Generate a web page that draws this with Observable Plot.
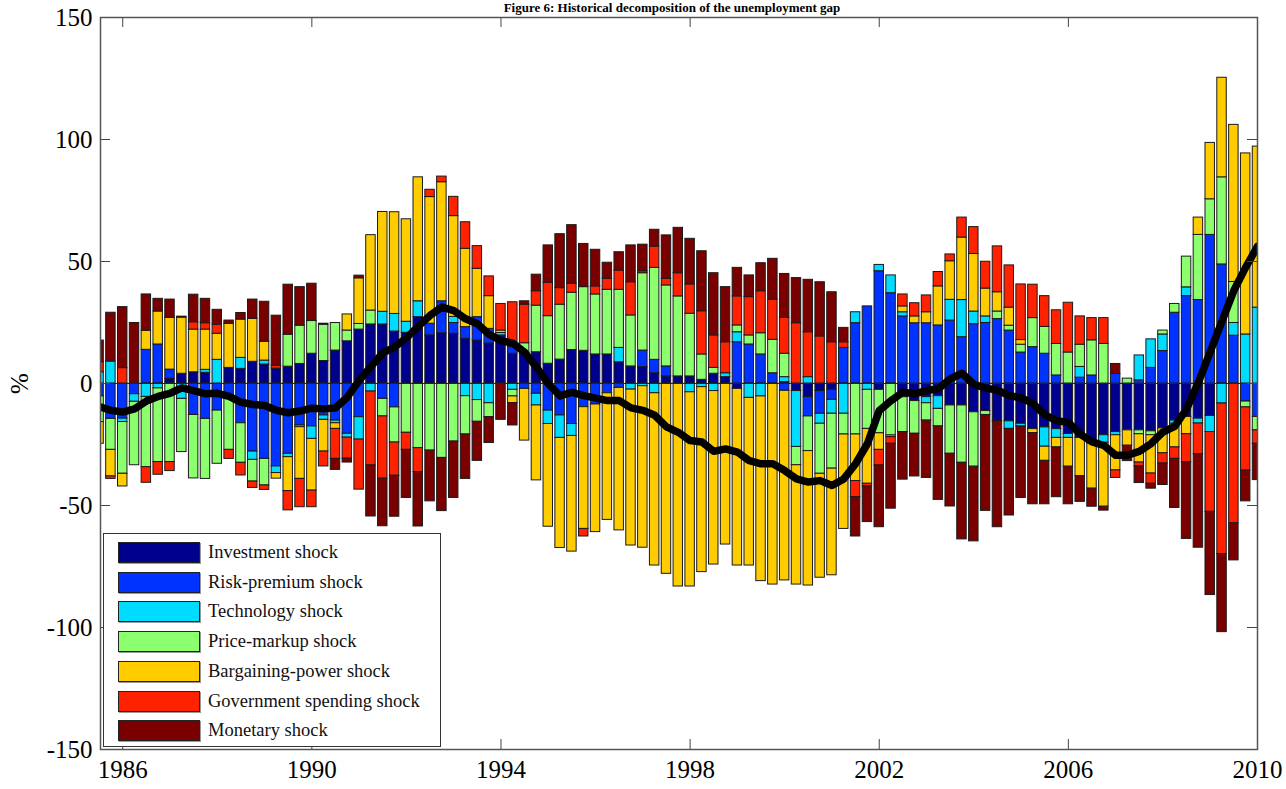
<!DOCTYPE html>
<html><head><meta charset="utf-8">
<script src="https://cdn.jsdelivr.net/npm/d3@7"></script>
<script src="https://cdn.jsdelivr.net/npm/@observablehq/plot@0.6"></script>
<style>
html,body{margin:0;padding:0;background:#fff;}
#wrap{position:relative;width:1286px;height:789px;overflow:hidden;font-family:"Liberation Serif","Times New Roman",serif;}
#title{position:absolute;top:1px;left:672px;transform:translateX(-50%);white-space:nowrap;font-weight:bold;font-size:13px;line-height:1;color:#000;}
#chart{position:absolute;left:0;top:0;}
#legend{position:absolute;left:103px;top:533px;width:338px;height:214px;border:1px solid #333;background:#fff;box-sizing:border-box;}
.row{position:absolute;left:14px;height:21px;display:flex;align-items:center;}
.sw{width:82px;height:21px;border:1px solid #222;box-sizing:border-box;box-shadow:1px 1px 0 #999;}
.lab{margin-left:8px;font-size:18.5px;color:#111;white-space:nowrap;}
</style></head><body>
<div id="wrap"><div id="chart"></div><div id="title">Figure 6: Historical decomposition of the unemployment gap</div><div id="legend"></div></div>
<script>
const dates = [1985.5,1985.75,
1986,1986.25,1986.5,1986.75, 1987,1987.25,1987.5,1987.75, 1988,1988.25,1988.5,1988.75, 1989,1989.25,1989.5,1989.75,
1990,1990.25,1990.5,1990.75, 1991,1991.25,1991.5,1991.75, 1992,1992.25,1992.5,1992.75, 1993,1993.25,1993.5,1993.75,
1994,1994.25,1994.5,1994.75, 1995,1995.25,1995.5,1995.75, 1996,1996.25,1996.5,1996.75, 1997,1997.25,1997.5,1997.75,
1998,1998.25,1998.5,1998.75, 1999,1999.25,1999.5,1999.75, 2000,2000.25,2000.5,2000.75, 2001,2001.25,2001.5,2001.75,
2002,2002.25,2002.5,2002.75, 2003,2003.25,2003.5,2003.75, 2004,2004.25,2004.5,2004.75, 2005,2005.25,2005.5,2005.75,
2006,2006.25,2006.5,2006.75, 2007,2007.25,2007.5,2007.75, 2008,2008.25,2008.5,2008.75, 2009,2009.25,2009.5,2009.75, 2010];

const shocks = ["Investment shock","Risk-premium shock","Technology shock","Price-markup shock","Bargaining-power shock","Government spending shock","Monetary shock"];
const colors = ["#00008f","#0033ff","#00dcff","#8cff6e","#ffcc00","#ff2200","#7a0000"];

const investment = [0,0,0,0,0,0,1.9,4.0,4.6,4.4,
0,6.4,6,8.9,7.8,6.1,6.9,8,12.2,9.2,
13.5,17.3,22.1,24.2,24.2,21.3,20.8,27.2,19.7,20.6,
20.4,18.3,17.6,16.4,19.7,12.2,12,12.8,8.1,9.8,
13.7,13.4,11.9,11.9,8.7,7.0,6.7,4.2,2.9,2.9,
2.9,1.5,4.0,2.6,-2.2,0,0,0,0.6,-3.1,
-5.6,-3.1,-2.6,0,0,0,-2.6,0,-5.6,-7.2,
-5.6,-5.2,-9,-9,-11.8,-11.3,-15.5,-15.5,-16.5,-18.7,
-18,-18.7,-20.7,-22.3,-24.6,-21.2,-19.9,-19.2,-19.2,-19.6,
-18.4,-15.2,-13.7,-14.4,-13.3,0,0,0,0];
const riskPremium = [-5.3,-14.5,-14.4,-4.4,13.8,16,3.8,0,-12.9,-14.5,
-11.1,-6,-16.3,-27.9,-30.9,-34,-28.8,-17.2,-17.6,-13.1,
-15.2,-20.6,-13.8,0,-6.3,-9.8,0,0,4.8,13.1,
4.4,4.8,9.6,6,0,2.7,-2.2,-4.2,-11.1,-13.1,
-16.6,-9.7,-8.6,-4.0,-1.8,0,6.8,5.5,4.1,0,
0,0,0,0,16.9,16,11.9,4.2,-3,0,
-7.9,-9.3,-4.1,14.6,24.7,31.6,46,37,27.5,24.7,
24.7,23.8,25.8,19,24.3,24.8,26.4,21.7,12.7,14.9,
12.2,3.3,0,2.4,3.3,0,3.9,0,1.3,6.4,
13.3,29,35.8,34.2,60.9,48.8,19.6,-7.4,-13.7];
const technology = [4.6,9.0,-1.4,-3.1,-5.5,-2,0,-6.3,0,1.2,
9.7,0,4.5,-3.4,1.6,-2.7,-1.4,-0.7,-5.1,-1.8,
-1.1,-1.6,-9.2,-3.3,5.2,7.2,4.5,6.5,0,0,
2.5,-5.2,-6.8,-8.1,1.0,-2.6,0,-4.8,-5.5,-9.2,
-4.9,0,0,0,5.9,-2.5,-1.1,-4.0,0,0,
-3.6,-1.5,-3.1,1.6,4.1,-5.9,-5.3,0,2.0,-22.9,
2.6,-4.1,-5.7,-12.4,4.5,-2.6,2.6,7.3,1.7,0,
-2.5,-5.2,8.5,15.2,5.2,2.7,0,-3.1,-1.1,0,
-7.9,-3.6,-1.6,4.4,0,-3.1,-1.3,0,10.2,11.7,
6.8,-1.3,3.6,-2.0,-6.6,-8.2,5.2,20.1,31.1];
const priceMarkup = [-10.5,-12.7,-21.2,-26,-28.8,-30.2,-32.2,-21.8,-26,-24.6,
-21.8,-21.2,-16.2,-8.9,-10.9,0,13.1,15.7,13.4,14.9,
11.3,4.4,2.3,5.7,-7.2,-14.4,-20.2,-26.5,-27.5,-30.5,
-23.8,-15.7,-8.9,-5.7,0,-2.7,4.5,19.1,19.5,22.5,
23.5,26.1,24.6,26.5,23.8,20.9,31.7,37.7,33.2,32.8,
25.7,10.4,2.4,0,2.8,3.7,8.7,13.7,9.6,-7.5,
-14.2,-20.5,-22.5,-8.5,-20.9,-16,-17.8,-21.3,-14.3,-13.4,
-7.1,-7.2,-19.8,-23.5,-22.3,-1.6,3.1,2.0,3.2,11.9,
11,12.9,12.7,9.1,14.4,16.2,0,2.0,-1.6,-1.6,
1.6,3.6,12.6,26.7,14.6,35.7,16.8,-2.4,-5.5];
const bargaining = [-8.9,-10.9,-5.2,0,7.8,13.5,21.2,23,17.5,16.5,
10.7,18,15.7,17.6,7.7,-2.3,-13.9,-21.2,-21.2,-13,
-2.3,6.6,18.7,30.9,40.9,41.7,42,50.8,51.9,48.8,
41.3,32.1,19.8,13.4,1.0,-2.7,-21.2,-30.7,-42.1,-45.1,
-47.4,-49.9,-52.3,-51.9,-58.4,-63.9,-66.2,-70.6,-78,-83.2,
-79.6,-75.8,-71.1,-66,-72.4,-68.7,-75.7,-82.4,-77.7,-48.9,
-55.1,-42.6,-43.7,-38.7,-19.1,-22.5,-6.8,-0.7,2.4,2.8,
4.5,16.0,15.8,25.6,23.6,11.4,7.9,7.4,1.9,-1.6,
-5.8,-3.9,-11.8,-15.7,-18.5,-26.2,-14.4,-6.3,-11.6,-15.7,
-10.2,-9.7,-7.1,7.1,23.1,40.8,64.4,74.2,66];
const government = [4.1,-1.0,6.3,0,-6.4,-5.2,-3.7,0,3.0,2.6,
3.7,-3.7,-5.2,-2.6,-1.8,1.2,-7.9,-11.6,-6.8,-6.1,
-12.3,-8.6,-20.5,-30.3,-25.5,-13.6,-7.0,-9.8,3.0,2.3,
7.9,10.9,9.3,8.1,10.9,18.4,15.8,5.9,13.7,6.8,
3.7,-3.1,3.3,4.5,7.9,13.6,0.8,8.7,2.7,9.5,
12,17.7,13.3,12.7,11.9,15.7,17.2,16.4,14.7,24.7,
18.4,19.3,16.9,2.3,-6.6,-1.1,-6.4,-2.7,4.9,5.4,
6.9,5.9,2.8,8.2,11,11,18.8,17.3,22.8,13.7,
12.6,13.8,20.4,11.6,9.1,10.6,-3.1,0,-1.6,-4.2,
-4.2,-4.7,-11.5,-12.6,-32.7,-61.7,-57.3,-25.9,-5.5];
const monetary = [8.9,20,25,24.8,14.9,5.2,7.5,0.4,11.3,10,
6.1,1.4,2.7,7.9,16.4,20.5,20.5,15.8,15.3,0.4,
-4.5,-1.6,1.1,-20.9,-19.5,-16.8,-19.7,-22.3,-20.8,-21.8,
-23.1,-18.2,-16,-10.6,-14.9,-9.2,1.4,6.8,15.3,22.1,
24,17.7,15,6.6,7.5,15.1,10.9,6.9,17.8,18.6,
18.7,24.6,25.5,22.6,11.7,8.9,11.5,16.8,18,18.5,
21.5,22.2,20.5,5.9,-16.1,-14.6,-25.3,-26.6,-19.5,-17.5,
-23.5,-30.1,-21.6,-31.4,-30.6,-39.3,-43.4,-35.5,-29.3,-29.2,
-17.8,-20.4,-15.4,-10.5,-7.4,-1.6,4.1,-6.3,-6.8,-2.0,
-8.8,-20.1,-31.4,-38.3,-34.1,-32,-15.2,-12.6,-14.9];
const unemploymentGap = [-9.4,-11,-11.7,-10.4,-7.2,-5.3,-4,-1.8,-2.9,-4.2,
-4,-5.3,-7.7,-8.6,-9,-11,-12,-11.3,-10.1,-10.4,
-10,-5.6,1.2,7,12.5,14.9,18.7,23.4,27.9,31.3,
29.9,26.5,24.5,20.1,17.6,16.5,12.8,6.7,-0.1,-5.1,
-3.6,-5,-6,-7,-7,-10,-11,-13,-17.8,-20,
-23.4,-24,-27.8,-26.8,-28.1,-31.6,-32.9,-32.9,-35.7,-39.1,
-40.4,-39.8,-41.8,-39.1,-32.9,-24.7,-11.1,-7,-3.6,-4.2,
-2.9,-2.2,1.9,4.2,-0.3,-1.9,-2.7,-5,-5.8,-8.2,
-12.9,-15.2,-16,-20.7,-23.9,-25.4,-29.4,-29.4,-27.8,-24.6,
-19.9,-17.6,-10.5,0.5,13,25.6,38.1,47.6,56.2];

const xTicks = [1986,1990,1994,1998,2002,2006,2010];
const yTicks = [-150,-100,-50,0,50,100,150];

const series = [investment, riskPremium, technology, priceMarkup, bargaining, government, monetary];
const barHalf = 0.1;
const rows = [];
dates.forEach((t, i) => {
  series.forEach((s, k) => {
    if (s[i] !== 0) rows.push({t, x1: t - barHalf, x2: t + barHalf, shock: shocks[k], value: s[i]});
  });
});
const lineRows = dates.map((t, i) => ({t, v: unemploymentGap[i]}));

const W = 1286, H = 789, mL = 100, mR = 29, mT = 17, mB = 40;
const fw = W - mL - mR, fh = H - mT - mB, tl = 10;

const chart = Plot.plot({
  width: W, height: H,
  marginLeft: mL, marginRight: mR, marginTop: mT, marginBottom: mB,
  style: {fontFamily: "'Liberation Serif', 'Times New Roman', serif", fontSize: "25px", background: "white", color: "#000", overflow: "visible"},
  x: {domain: [1985.53, 2010], label: null},
  y: {domain: [-150, 150], label: null},
  color: {domain: shocks, range: colors},
  marks: [
    Plot.rectY(rows, {x1: "x1", x2: "x2", y: "value", fill: "shock", order: shocks, stroke: "#1a1a1a", strokeWidth: 1, clip: true}),
    Plot.ruleY([0], {stroke: "#222", strokeWidth: 1}),
    Plot.line(lineRows, {x: "t", y: "v", stroke: "#000", strokeWidth: 7.5, clip: true}),
    Plot.tickX(xTicks, {x: d => d, insetBottom: fh - tl, stroke: "#444"}),
    Plot.tickX(xTicks, {x: d => d, insetTop: fh - tl, stroke: "#444"}),
    Plot.tickY(yTicks, {y: d => d, insetRight: fw - tl, stroke: "#444"}),
    Plot.tickY(yTicks, {y: d => d, insetLeft: fw - tl, stroke: "#444"}),
    Plot.frame({stroke: "#555", strokeWidth: 1.5}),
    Plot.axisX({ticks: xTicks, tickSize: 0, tickPadding: 11, tickFormat: d => String(d), label: null, fontSize: 25}),
    Plot.axisY({ticks: yTicks, tickSize: 0, tickPadding: 8, tickFormat: d => String(d), label: "%", labelAnchor: "center", labelArrow: "none", labelOffset: 90, fontSize: 25})
  ]
});
document.getElementById("chart").appendChild(chart);

const legend = document.getElementById("legend");
shocks.forEach((name, k) => {
  const row = document.createElement("div");
  row.className = "row";
  row.style.top = (8 + k * 29.7) + "px";
  const sw = document.createElement("div");
  sw.className = "sw";
  sw.style.background = colors[k];
  const lab = document.createElement("span");
  lab.className = "lab";
  lab.textContent = name;
  row.appendChild(sw); row.appendChild(lab);
  legend.appendChild(row);
});
</script>
</body></html>
